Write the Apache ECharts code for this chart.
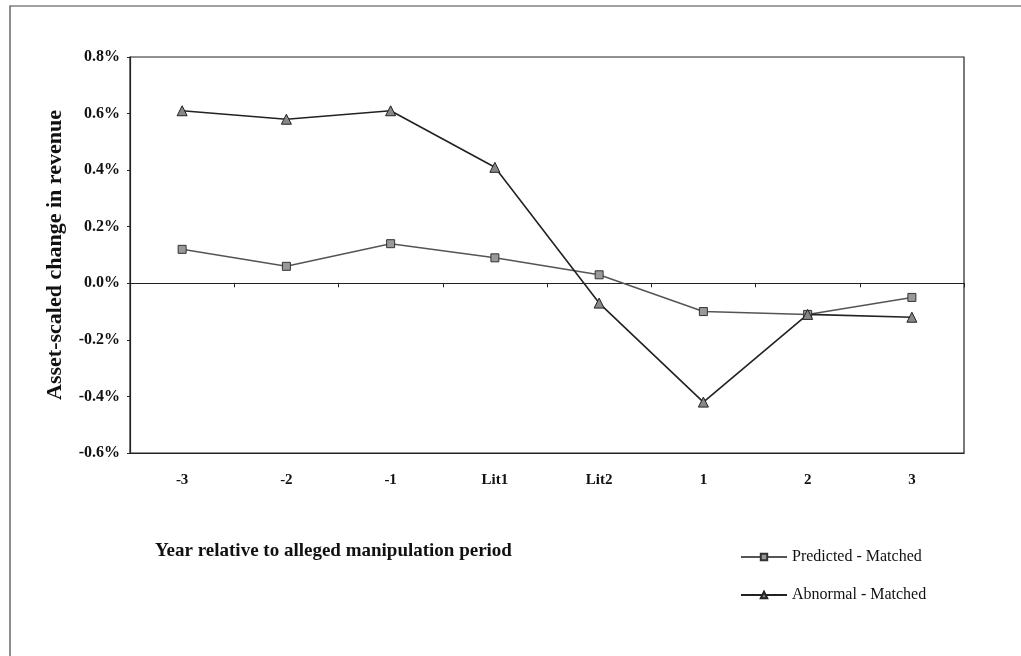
<!DOCTYPE html>
<html>
<head>
<meta charset="utf-8">
<script src="https://cdn.jsdelivr.net/npm/echarts@6/dist/echarts.min.js"></script>
<style>
    html, body { margin: 0; padding: 0; background: #fff; }
    #chart { width: 1021px; height: 656px; }
</style>
</head>
<body>
<div id="chart"></div>
<script>
var categories = ['-3', '-2', '-1', 'Lit1', 'Lit2', '1', '2', '3'];
var predicted = [0.12, 0.06, 0.14, 0.09, 0.03, -0.10, -0.11, -0.05];
var abnormal = [0.61, 0.58, 0.61, 0.41, -0.07, -0.42, -0.11, -0.12];
var yTicks = { min: -0.6, max: 0.8, interval: 0.2 };

var serif = 'Liberation Serif';

var chart = echarts.init(document.getElementById('chart'));
var option = {
    backgroundColor: '#fff',
    animation: false,
    graphic: [{
        type: 'polyline',
        shape: { points: [[10, 660], [10, 6], [1030, 6]] },
        style: { stroke: '#444', lineWidth: 1.2, fill: null }
    }],
    title: {
        text: 'Year relative to alleged manipulation period',
        left: 150,
        top: 537,
        textStyle: { fontFamily: serif, fontWeight: 'bold', fontSize: 19, color: '#111' }
    },
    legend: {
        orient: 'vertical',
        left: 735,
        top: 544,
        itemGap: 22,
        itemWidth: 46,
        itemHeight: 8,
        data: ['Predicted - Matched', 'Abnormal - Matched'],
        textStyle: { fontFamily: serif, fontSize: 16, color: '#111' }
    },
    grid: {
        left: 130,
        top: 57,
        right: 57,
        bottom: 203,
        show: true,
        borderColor: '#222',
        borderWidth: 1.2
    },
    xAxis: [{
        type: 'category',
        data: categories,
        boundaryGap: true,
        axisLine: { onZero: false, lineStyle: { color: '#222', width: 1.2 } },
        axisTick: { show: false },
        axisLabel: {
            margin: 20,
            fontFamily: serif, fontWeight: 'bold', fontSize: 15, color: '#111'
        }
    }, {
        type: 'category',
        data: categories,
        boundaryGap: true,
        position: 'bottom',
        axisLine: { onZero: true, lineStyle: { color: '#222', width: 1.2 } },
        axisTick: { show: true, length: 4, inside: false, lineStyle: { color: '#222' } },
        axisLabel: { show: false }
    }],
    yAxis: {
        type: 'value',
        min: yTicks.min,
        max: yTicks.max,
        interval: yTicks.interval,
        name: 'Asset-scaled change in revenue',
        nameLocation: 'middle',
        nameGap: 64,
        nameTextStyle: { fontFamily: serif, fontWeight: 'bold', fontSize: 22, color: '#111' },
        axisLine: { show: true, lineStyle: { color: '#222', width: 1.2 } },
        axisTick: { show: true, length: 3, lineStyle: { color: '#222' } },
        splitLine: { show: false },
        axisLabel: {
            margin: 10,
            fontFamily: serif, fontWeight: 'bold', fontSize: 16, color: '#111',
            formatter: function(v) { return v.toFixed(1) + '%'; }
        }
    },
    series: [{
        name: 'Predicted - Matched',
        type: 'line',
        data: predicted,
        symbol: 'rect',
        symbolSize: 8,
        lineStyle: { color: '#555', width: 1.5 },
        itemStyle: { color: '#999', borderColor: '#333', borderWidth: 1 }
    }, {
        name: 'Abnormal - Matched',
        type: 'line',
        data: abnormal,
        symbol: 'triangle',
        symbolSize: 10,
        lineStyle: { color: '#222', width: 1.6 },
        itemStyle: { color: '#888', borderColor: '#222', borderWidth: 1 }
    }]
};
chart.setOption(option);
</script>
</body>
</html>
